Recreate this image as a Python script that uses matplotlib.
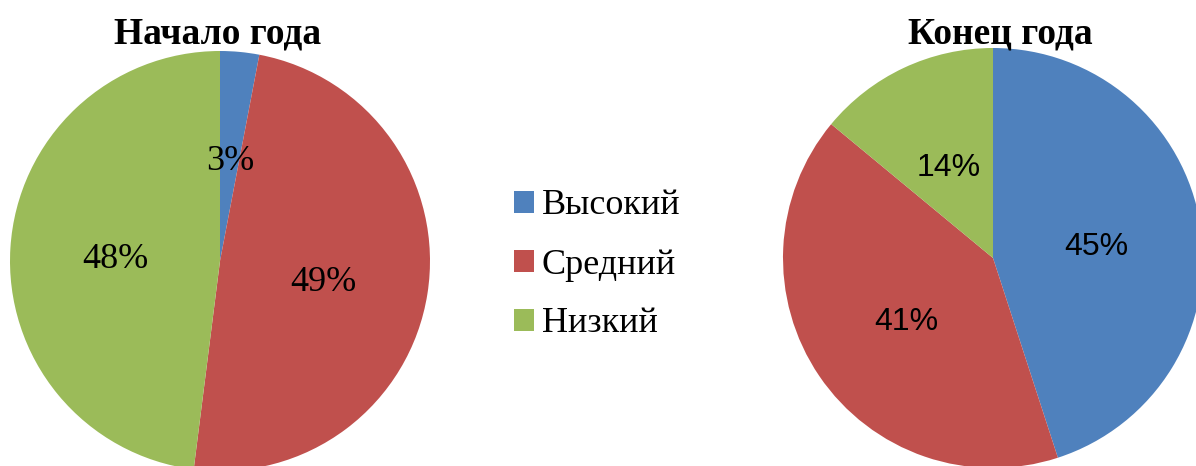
import matplotlib.pyplot as plt

categories = ['Высокий', 'Средний', 'Низкий']
start_year = [3, 49, 48]
end_year = [45, 41, 14]
titles = ['Начало года', 'Конец года']
colors = ['#4F81BD', '#C0504D', '#9BBB59']

W, H = 1196, 466
fig = plt.figure(figsize=(W / 100, H / 100), dpi=100)

serif = 'Liberation Serif'
sans = 'Liberation Sans'


def pie_axes(cx, cy, r):
    # cx, cy, r in pixels, cy measured from top
    return fig.add_axes([(cx - r) / W, (H - cy - r) / H, 2 * r / W, 2 * r / H])


def fix_limits(ax):
    ax.set_xlim(-1, 1)
    ax.set_ylim(-1, 1)
    ax.set_aspect('equal')
    ax.axis('off')


def style_labels(texts, family, size):
    for t in texts:
        t.set_fontfamily(family)
        t.set_fontsize(size)
        x, y = t.get_position()
        t.set_position((x, y - 0.025))


ax1 = pie_axes(220, 261, 210)
wedges, _, pcts = ax1.pie(start_year, colors=colors, startangle=90, counterclock=False,
                          autopct='%d%%', pctdistance=0.5, radius=1,
                          wedgeprops=dict(linewidth=0))
style_labels(pcts, serif, 26)
fix_limits(ax1)

ax2 = pie_axes(993, 258, 210)
_, _, pcts2 = ax2.pie(end_year, colors=colors, startangle=90, counterclock=False,
                      autopct='%d%%', pctdistance=0.5, radius=1,
                      wedgeprops=dict(linewidth=0))
style_labels(pcts2, sans, 23)
fix_limits(ax2)

fig.text(218 / W, (H - 43) / H, titles[0], ha='center', va='baseline',
         family=serif, fontweight='bold', fontsize=27)
fig.text(1000 / W, (H - 43) / H, titles[1], ha='center', va='baseline',
         family=serif, fontweight='bold', fontsize=27)

fig.legend(wedges, categories, loc='center', bbox_to_anchor=(597 / W, (H - 265) / H),
           frameon=False, prop=dict(family=serif, size=26),
           handlelength=0.55, handleheight=0.55, handletextpad=0.22,
           labelspacing=0.72, borderpad=0)

fig.savefig('out.png', dpi=100)
